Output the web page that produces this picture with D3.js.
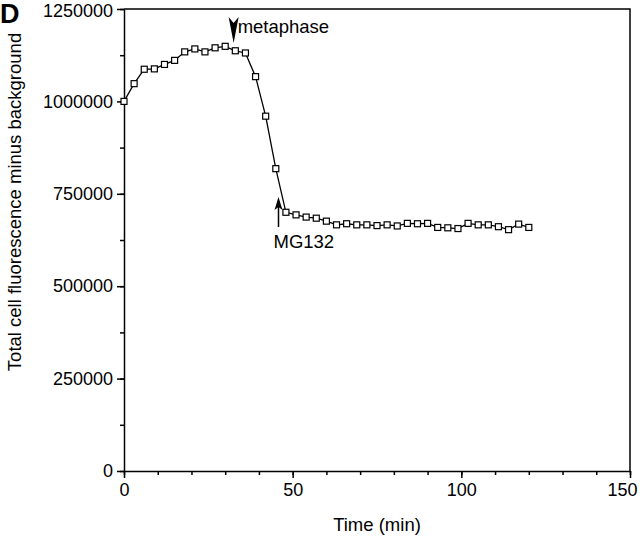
<!DOCTYPE html>
<html lang="en">
<head>
    <meta charset="UTF-8">
    <title>Total cell fluorescence</title>
    <script src="https://d3js.org/d3.v7.min.js"></script>
    <style>
        body { margin: 0; background: white; }
        text { font-family: "Liberation Sans", Arial, Helvetica, sans-serif; }
    </style>
</head>
<body>
    <div id="chart"></div>

    <script>
        // time points (min), every 3 minutes
        const times = [0, 3, 6, 9, 12, 15, 18, 21, 24, 27, 30, 33, 36, 39, 42, 45, 48, 51, 54, 57,
            60, 63, 66, 69, 72, 75, 78, 81, 84, 87, 90, 93, 96, 99, 102, 105, 108, 111, 114, 117, 120];
        // fluorescence
        const fluorescence = [1000000, 1048000, 1087000, 1088000, 1100000, 1111000, 1134000, 1142000,
            1134000, 1145000, 1149000, 1137000, 1131000, 1067000, 960000, 818000, 700000, 693000,
            687000, 684000, 676000, 666000, 669000, 666000, 666000, 664000, 666000, 663000, 670000,
            669000, 670000, 659000, 658000, 656000, 670000, 666000, 666000, 661000, 653000, 668000, 659000];
        const xTicks = [0, 50, 100, 150];
        const yTicks = [0, 250000, 500000, 750000, 1000000, 1250000];

        const width = 640, height = 538;
        const margin = { left: 124, right: 10, top: 9, bottom: 67 };

        const svg = d3.select("#chart").append("svg")
            .attr("width", width)
            .attr("height", height);

        const x = d3.scaleLinear().domain([0, 150]).range([margin.left, width - margin.right]);
        const y = d3.scaleLinear().domain([0, 1250000]).range([height - margin.bottom, margin.top]);

        // frame (top and right)
        svg.append("path")
            .attr("d", `M${x(0)},${y(1250000)}H${x(150)}V${y(0)}`)
            .attr("fill", "none")
            .attr("stroke", "black")
            .attr("stroke-width", 1.5);

        // minor ticks
        const xAxisMinor = d3.axisBottom(x).tickValues(d3.range(0, 151, 10)).tickSize(4).tickFormat("");
        const yAxisMinor = d3.axisLeft(y).tickValues(d3.range(0, 1250001, 125000)).tickSize(4).tickFormat("");

        svg.append("g").attr("transform", `translate(0,${y(0)})`).call(xAxisMinor)
            .call(g => g.select(".domain").remove());
        svg.append("g").attr("transform", `translate(${x(0)},0)`).call(yAxisMinor)
            .call(g => g.select(".domain").remove());

        const xAxis = svg.append("g")
            .attr("transform", `translate(0,${y(0)})`)
            .call(d3.axisBottom(x).tickValues(xTicks).tickSize(7).tickSizeOuter(0).tickPadding(5));
        const yAxis = svg.append("g")
            .attr("transform", `translate(${x(0)},0)`)
            .call(d3.axisLeft(y).tickValues(yTicks).tickSize(7).tickSizeOuter(0).tickPadding(4).tickFormat(d3.format("d")));

        svg.selectAll(".tick line, .domain").attr("stroke", "black").attr("stroke-width", 1.5);
        svg.selectAll(".tick text").attr("font-size", 18).attr("fill", "black")
            .attr("font-family", "Liberation Sans, Arial, sans-serif");
        // keep the edge labels inside the picture, as in the reference
        xAxis.selectAll(".tick text").filter(d => d === 150).attr("dx", -8);
        yAxis.selectAll(".tick text").filter(d => d === 1250000).attr("dy", "0.42em");

        // line and markers
        const pts = times.map((t, i) => [t, fluorescence[i]]);
        svg.append("path")
            .datum(pts)
            .attr("fill", "none")
            .attr("stroke", "black")
            .attr("stroke-width", 1.3)
            .attr("d", d3.line().x(d => x(d[0])).y(d => y(d[1])));

        svg.selectAll("rect.pt")
            .data(pts)
            .join("rect")
            .attr("class", "pt")
            .attr("x", d => x(d[0]) - 3)
            .attr("y", d => y(d[1]) - 3)
            .attr("width", 6)
            .attr("height", 6)
            .attr("fill", "white")
            .attr("stroke", "black")
            .attr("stroke-width", 1.2);

        // axis titles
        svg.append("text")
            .attr("x", (x(0) + x(150)) / 2)
            .attr("y", 531)
            .attr("text-anchor", "middle")
            .attr("font-size", 18.5)
            .text("Time (min)");

        svg.append("text")
            .attr("transform", "translate(21,202) rotate(-90)")
            .attr("text-anchor", "middle")
            .attr("font-size", 18.5)
            .text("Total cell fluorescence minus background");

        // panel letter
        svg.append("text")
            .attr("x", 0)
            .attr("y", 23)
            .attr("font-size", 27)
            .attr("font-weight", "bold")
            .text("D");

        // metaphase arrowhead (pointing down)
        const mx = x(32.5);
        svg.append("path")
            .attr("d", `M${mx - 5},17 L${mx},23 L${mx + 5},17 L${mx},43 Z`)
            .attr("fill", "black");
        svg.append("text")
            .attr("x", mx + 4)
            .attr("y", 33)
            .attr("font-size", 18.5)
            .text("metaphase");

        // MG132 arrow (pointing up)
        const ax = x(45.8);
        svg.append("line")
            .attr("x1", ax).attr("x2", ax)
            .attr("y1", 205).attr("y2", 227)
            .attr("stroke", "black")
            .attr("stroke-width", 1.5);
        svg.append("path")
            .attr("d", `M${ax},197 L${ax + 4},210 L${ax},207 L${ax - 4},210 Z`)
            .attr("fill", "black");
        svg.append("text")
            .attr("x", ax - 5)
            .attr("y", 248)
            .attr("font-size", 18.5)
            .text("MG132");
    </script>
</body>
</html>
